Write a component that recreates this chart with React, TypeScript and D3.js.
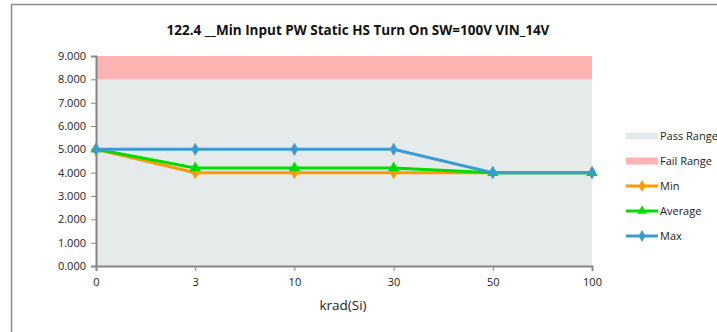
import React, { useRef, useEffect } from 'react'
import * as d3 from 'd3'

const categories = ['0', '3', '10', '30', '50', '100']
const minValues = [5.0, 4.0, 4.0, 4.0, 4.0, 4.0]
const avgValues = [5.0, 4.2, 4.2, 4.2, 4.0, 4.0]
const maxValues = [5.0, 5.0, 5.0, 5.0, 4.0, 4.0]
const passRange = [0, 8]
const failRange = [8, 9]
const yTicks = [0, 1, 2, 3, 4, 5, 6, 7, 8, 9]

const series = [
  { name: 'Min', values: minValues, color: '#FF9A00', symbol: d3.symbolDiamond },
  { name: 'Average', values: avgValues, color: '#00DC00', symbol: d3.symbolTriangle },
  { name: 'Max', values: maxValues, color: '#3B9AD2', symbol: d3.symbolDiamond },
]

export default function App() {
  const svgRef = useRef<SVGSVGElement>(null)

  useEffect(() => {
    if (!svgRef.current) return
    const svg = d3.select(svgRef.current)
    svg.selectAll('*').remove()

    const width = 717
    const height = 332
    const plot = { left: 96, right: 592, top: 56, bottom: 266 }
    const font = "'Open Sans', 'Noto Sans', sans-serif"

    svg.append('rect').attr('width', width).attr('height', height).attr('fill', '#fff')

    // outer chart border (only top and left visible)
    svg.append('path')
      .attr('d', `M11.5,${height} V4.5 H${width}`)
      .attr('fill', 'none')
      .attr('stroke', '#8c8c8c')
      .attr('stroke-width', 1.5)

    const x = d3.scalePoint<string>()
      .domain(categories)
      .range([plot.left, plot.right])
      .padding(0)

    const y = d3.scaleLinear()
      .domain([0, 9])
      .range([plot.bottom, plot.top])

    // ranges
    svg.append('rect')
      .attr('x', plot.left).attr('width', plot.right - plot.left)
      .attr('y', y(passRange[1])).attr('height', y(passRange[0]) - y(passRange[1]))
      .attr('fill', '#E5EBEB')
    svg.append('rect')
      .attr('x', plot.left).attr('width', plot.right - plot.left)
      .attr('y', y(failRange[1])).attr('height', y(failRange[0]) - y(failRange[1]))
      .attr('fill', '#FFB3B3')

    // title
    svg.append('text')
      .attr('x', 358).attr('y', 35)
      .attr('text-anchor', 'middle')
      .attr('font-family', font)
      .attr('font-weight', 'bold')
      .attr('font-size', 13.5)
      .attr('fill', '#111')
      .text('122.4 __Min Input PW Static HS Turn On SW=100V VIN_14V')

    // y axis
    const yAxis = svg.append('g')
      .attr('transform', `translate(${plot.left},0)`)
      .call(d3.axisLeft(y).tickValues(yTicks).tickSize(5).tickPadding(5).tickFormat(d3.format('.3f')))
    yAxis.select('.domain').attr('stroke', '#868686').attr('stroke-width', 2)
    yAxis.selectAll('.tick line').attr('stroke', '#868686')
    yAxis.selectAll('.tick text')
      .attr('font-family', font).attr('font-size', 11).attr('fill', '#222')

    // x axis
    const xAxis = svg.append('g')
      .attr('transform', `translate(0,${plot.bottom})`)
      .call(d3.axisBottom(x).tickSize(5).tickPadding(7))
    xAxis.select('.domain').attr('stroke', '#868686').attr('stroke-width', 2)
    xAxis.selectAll('.tick line').attr('stroke', '#868686')
    xAxis.selectAll('.tick text')
      .attr('font-family', font).attr('font-size', 11).attr('fill', '#222')

    svg.append('text')
      .attr('x', 343).attr('y', 310)
      .attr('text-anchor', 'middle')
      .attr('font-family', font)
      .attr('font-size', 13.5)
      .attr('fill', '#222')
      .text('krad(Si)')

    // series
    const line = d3.line<number>()
      .x((_, i) => x(categories[i])!)
      .y(d => y(d))

    series.forEach(s => {
      svg.append('path')
        .datum(s.values)
        .attr('d', line)
        .attr('fill', 'none')
        .attr('stroke', s.color)
        .attr('stroke-width', 3)
      svg.selectAll(null)
        .data(s.values)
        .enter().append('path')
        .attr('transform', (d, i) => `translate(${x(categories[i])},${y(d)})`)
        .attr('d', d3.symbol().type(s.symbol).size(s.symbol === d3.symbolTriangle ? 55 : 50)())
        .attr('fill', s.color)
    })

    // legend
    const legend = svg.append('g').attr('font-family', font).attr('font-size', 11).attr('fill', '#222')
    const lx = 626
    const rows = [
      { label: 'Pass Range', kind: 'rect', color: '#E5EBEB' },
      { label: 'Fail Range', kind: 'rect', color: '#FFB3B3' },
      ...series.map(s => ({ label: s.name, kind: 'line', color: s.color, symbol: s.symbol })),
    ]
    rows.forEach((r, i) => {
      const ly = 136 + i * 25
      if (r.kind === 'rect') {
        legend.append('rect')
          .attr('x', lx).attr('y', ly - 3.5).attr('width', 32).attr('height', 7)
          .attr('fill', r.color)
      } else {
        legend.append('line')
          .attr('x1', lx).attr('x2', lx + 32).attr('y1', ly).attr('y2', ly)
          .attr('stroke', r.color).attr('stroke-width', 3)
        legend.append('path')
          .attr('transform', `translate(${lx + 16},${ly})`)
          .attr('d', d3.symbol().type((r as any).symbol).size(40)())
          .attr('fill', r.color)
      }
      legend.append('text')
        .attr('x', lx + 34).attr('y', ly)
        .attr('dy', '0.35em')
        .text(r.label)
    })
  }, [])

  return (
    <div style={{ position: 'absolute', left: 0, top: 0 }}>
      <svg ref={svgRef} width={717} height={332} style={{ display: 'block' }} />
    </div>
  )
}
